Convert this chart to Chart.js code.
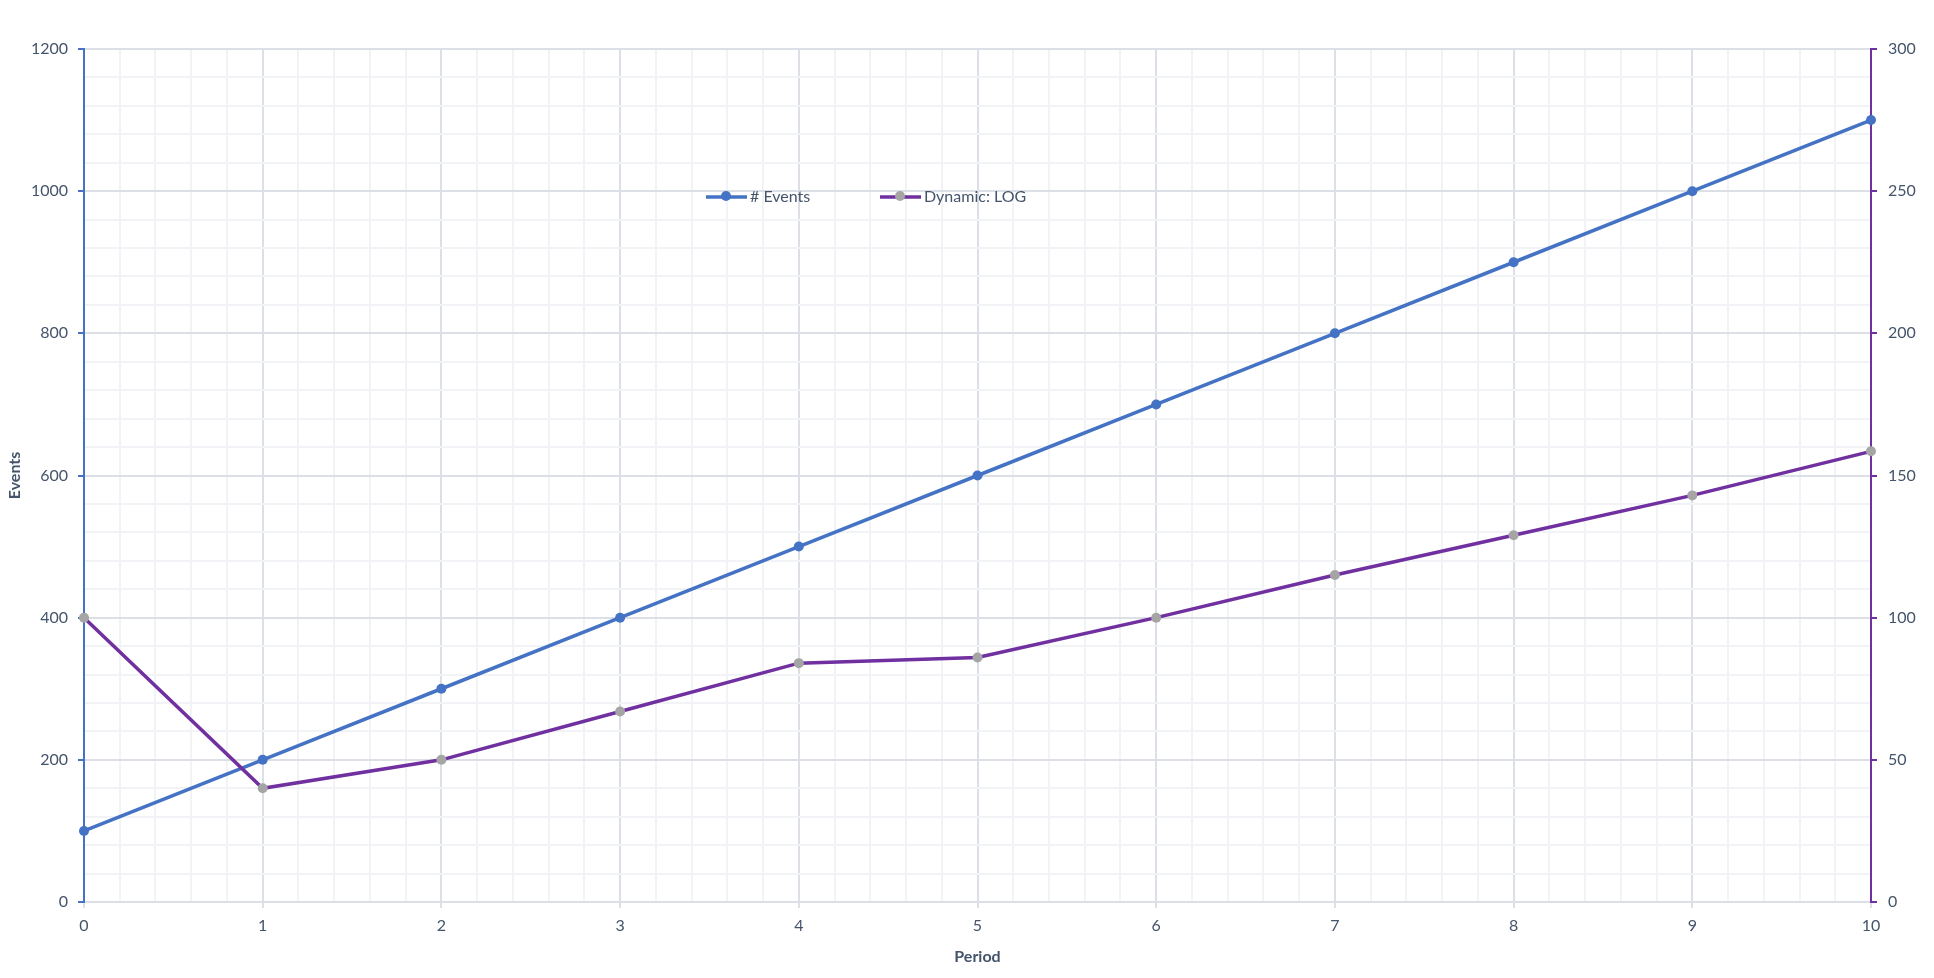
<!DOCTYPE html>
<html>
<head>
<meta charset="utf-8">
<title>Events / Dynamic: LOG</title>
<script src="https://cdn.jsdelivr.net/npm/chart.js@4.4.0/dist/chart.umd.min.js"></script>
<style>
  html, body { margin: 0; padding: 0; background: #fff; }
  #wrap { width: 1934px; height: 978px; position: relative; }
</style>
</head>
<body>
<div id="wrap"><canvas id="myChart"></canvas></div>
<script>
const periods = [0, 1, 2, 3, 4, 5, 6, 7, 8, 9, 10];
const events = [100, 200, 300, 400, 500, 600, 700, 800, 900, 1000, 1100];
const dynamicLog = [100, 40, 50, 67, 84, 86, 100, 115, 129, 143, 158.5];

const textColor = '#44546A';
const blue = '#4472C4';
const purple = '#7030A0';
const grey = '#A5A5A5';
const majorGrid = '#DCDFE6';
const minorGrid = '#F2F3F6';
const fontFamily = 'Lato, "Open Sans", sans-serif';

function toPoints(xs, ys) {
  return xs.map((x, i) => ({ x: x, y: ys[i] }));
}

// legend drawn inside the plot, like the original
const inlineLegend = {
  id: 'inlineLegend',
  afterDraw(chart) {
    const ctx = chart.ctx;
    const y = 197;
    const items = [
      { ds: 0, x: 706 },
      { ds: 1, x: 880 }
    ];
    ctx.save();
    items.forEach(it => {
      const ds = chart.data.datasets[it.ds];
      ctx.strokeStyle = ds.borderColor;
      ctx.lineWidth = 3.5;
      ctx.beginPath();
      ctx.moveTo(it.x, y);
      ctx.lineTo(it.x + 41, y);
      ctx.stroke();
      ctx.fillStyle = ds.pointBackgroundColor;
      ctx.beginPath();
      ctx.arc(it.x + 20, y - 1, 5, 0, Math.PI * 2);
      ctx.fill();
      ctx.fillStyle = textColor;
      ctx.font = '16px ' + fontFamily;
      ctx.textBaseline = 'middle';
      ctx.textAlign = 'left';
      ctx.fillText(ds.label, it.x + 44, y);
    });
    ctx.restore();
  }
};

new Chart(document.getElementById('myChart'), {
  type: 'line',
  data: {
    datasets: [
      {
        label: '# Events',
        data: toPoints(periods, events),
        yAxisID: 'y',
        borderColor: blue,
        backgroundColor: blue,
        pointBackgroundColor: blue,
        pointBorderColor: blue,
        borderWidth: 3.5,
        pointRadius: 5,
        pointBorderWidth: 0,
        tension: 0,
        clip: false,
        order: 2
      },
      {
        label: 'Dynamic: LOG',
        data: toPoints(periods, dynamicLog),
        yAxisID: 'y1',
        borderColor: purple,
        backgroundColor: grey,
        pointBackgroundColor: grey,
        pointBorderColor: grey,
        borderWidth: 3.5,
        pointRadius: 5,
        pointBorderWidth: 0,
        tension: 0,
        clip: false,
        order: 1
      }
    ]
  },
  options: {
    responsive: true,
    maintainAspectRatio: false,
    animation: false,
    layout: { padding: { top: 49, left: 0, right: 0, bottom: 0 } },
    plugins: {
      legend: { display: false },
      tooltip: { enabled: false }
    },
    scales: {
      x: {
        type: 'linear',
        min: 0,
        max: 10,
        afterFit(scale) { scale.height = 76; },
        border: { color: majorGrid, width: 2 },
        grid: {
          lineWidth: 2,
          tickLength: 6,
          color: c => Number.isInteger(Math.round(c.tick.value * 1000) / 1000) ? majorGrid : minorGrid,
          tickColor: c => Number.isInteger(Math.round(c.tick.value * 1000) / 1000) ? majorGrid : 'rgba(0,0,0,0)'
        },
        ticks: {
          stepSize: 0.2,
          autoSkip: false,
          maxRotation: 0,
          padding: 8,
          color: textColor,
          font: { family: fontFamily, size: 16 },
          callback: v => {
            const r = Math.round(v * 1000) / 1000;
            return Number.isInteger(r) ? String(r) : '';
          }
        },
        title: {
          display: true,
          text: 'Period',
          color: textColor,
          font: { family: fontFamily, size: 16, weight: 'bold' },
          padding: { top: 0, bottom: 12 }
        }
      },
      y: {
        type: 'linear',
        position: 'left',
        min: 0,
        max: 1200,
        afterFit(scale) { scale.width = 84; },
        border: { color: blue, width: 2 },
        grid: {
          lineWidth: 2,
          tickLength: 6,
          color: c => c.tick.value % 200 === 0 ? majorGrid : minorGrid,
          tickColor: c => c.tick.value % 200 === 0 ? blue : 'rgba(0,0,0,0)'
        },
        ticks: {
          stepSize: 40,
          autoSkip: false,
          padding: 10,
          color: textColor,
          font: { family: fontFamily, size: 16 },
          callback: v => v % 200 === 0 ? String(v) : ''
        },
        title: {
          display: true,
          text: 'Events',
          color: textColor,
          font: { family: fontFamily, size: 16, weight: 'bold' },
          padding: { top: 5, bottom: 0 }
        }
      },
      y1: {
        type: 'linear',
        position: 'right',
        min: 0,
        max: 300,
        afterFit(scale) { scale.width = 63; },
        border: { color: purple, width: 2 },
        grid: {
          drawOnChartArea: false,
          tickLength: 6,
          lineWidth: 2,
          tickColor: purple
        },
        ticks: {
          stepSize: 50,
          padding: 11,
          color: textColor,
          font: { family: fontFamily, size: 16 }
        }
      }
    }
  },
  plugins: [inlineLegend]
});
</script>
</body>
</html>
